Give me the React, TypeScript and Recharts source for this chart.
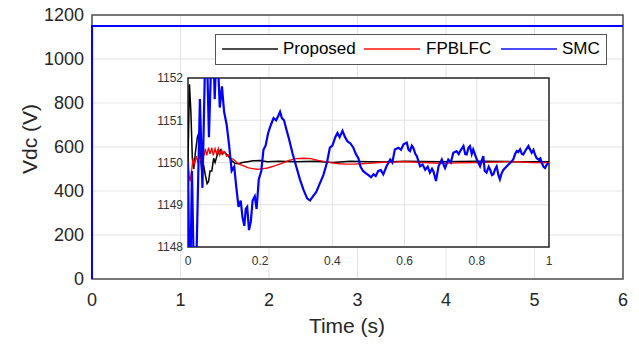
import React from "react";
import { LineChart, Line, XAxis, YAxis, CartesianGrid, ReferenceArea } from "recharts";

const FONT = '"Liberation Sans", Arial, Helvetica, sans-serif';
const TEXT = "#262626";

// main axes
const mainTicksX = [0, 1, 2, 3, 4, 5, 6];
const mainTicksY = [0, 200, 400, 600, 800, 1000, 1200];
const mainTime = [0, 0.001, 6];
const mainProposed = [0, 1150, 1150];
const mainFpblfc = [0, 1150, 1150];
const mainSmc = [0, 1150, 1150];

// zoomed inset (first second)
const insetTicksX = [0, 0.2, 0.4, 0.6, 0.8, 1];
const insetTicksY = [1148, 1149, 1150, 1151, 1152];

const seriesNames = ["Proposed", "FPBLFC", "SMC"];
const seriesColors = ["#000000", "#ff0000", "#0000ff"];

const proposedPts = [
  [0, 1150], [0.004, 1151.85], [0.008, 1151.2], [0.012, 1150.1], [0.016, 1149.85],
  [0.02, 1150.2], [0.026, 1150.6], [0.03, 1150.7], [0.034, 1150.2], [0.038, 1149.8],
  [0.043, 1149.95], [0.048, 1149.7], [0.053, 1149.5], [0.057, 1149.55], [0.061, 1149.8],
  [0.066, 1149.8], [0.071, 1150.1], [0.075, 1150.0], [0.08, 1150.15], [0.085, 1150.25],
  [0.09, 1150.3], [0.095, 1150.2], [0.1, 1150.25], [0.106, 1150.2], [0.112, 1150.15],
  [0.12, 1150.05], [0.13, 1149.98], [0.14, 1149.97], [0.15, 1150.0], [0.165, 1150.02],
  [0.18, 1150.04], [0.2, 1150.05], [0.22, 1150.02], [0.25, 1150.03], [0.3, 1150.02],
  [0.35, 1150.03], [0.4, 1150.0], [0.45, 1150.03], [0.5, 1150.02], [0.55, 1150.01],
  [0.6, 1150.03], [0.7, 1150.02], [0.8, 1150.03], [0.9, 1150.02], [1, 1150.02],
];

const fpblfcPts = [
  [0, 1150], [0.003, 1149.7], [0.006, 1149.55], [0.01, 1149.8], [0.014, 1150.1],
  [0.018, 1149.95], [0.023, 1150.15], [0.027, 1150.0], [0.031, 1150.15], [0.036, 1150.05],
  [0.04, 1150.3], [0.044, 1150.15], [0.048, 1150.32], [0.052, 1150.17], [0.057, 1150.35],
  [0.061, 1150.2], [0.066, 1150.35], [0.07, 1150.17], [0.075, 1150.33], [0.079, 1150.2],
  [0.084, 1150.33], [0.088, 1150.17], [0.093, 1150.3], [0.097, 1150.2], [0.102, 1150.25],
  [0.107, 1150.15], [0.112, 1150.18], [0.118, 1150.1], [0.125, 1150.08], [0.135, 1150.0],
  [0.145, 1149.95], [0.155, 1149.92], [0.165, 1149.88], [0.175, 1149.86], [0.19, 1149.84],
  [0.205, 1149.85], [0.22, 1149.87], [0.24, 1149.92], [0.26, 1149.98], [0.28, 1150.05],
  [0.3, 1150.09], [0.32, 1150.1], [0.34, 1150.09], [0.36, 1150.05], [0.38, 1150.02],
  [0.4, 1149.99], [0.42, 1149.97], [0.44, 1149.96], [0.46, 1149.96], [0.48, 1149.97],
  [0.5, 1149.98], [0.53, 1150.0], [0.56, 1150.01], [0.6, 1150.02], [0.65, 1150.0],
  [0.7, 1149.98], [0.75, 1149.99], [0.8, 1150.0], [0.85, 1150.01], [0.9, 1150.02],
  [0.95, 1150.0], [1, 1149.99],
];

const smcPts = [
  [0, 1150], [0.005, 1146.5], [0.011, 1149.8], [0.019, 1146.0], [0.033, 1151.5],
  [0.04, 1149.4], [0.05, 1153.5], [0.058, 1150.6], [0.068, 1153.5], [0.074, 1151.5],
  [0.08, 1153.0], [0.088, 1151.3], [0.094, 1151.8], [0.1, 1151.2], [0.107, 1150.9],
  [0.114, 1150.4], [0.121, 1149.8], [0.128, 1149.9], [0.134, 1149.4], [0.14, 1148.95],
  [0.146, 1149.1], [0.151, 1148.7], [0.156, 1148.5], [0.16, 1148.9], [0.164, 1148.95],
  [0.169, 1148.4], [0.174, 1148.6], [0.179, 1149.1], [0.185, 1149.2], [0.19, 1148.9],
  [0.196, 1149.6], [0.203, 1149.8], [0.209, 1150.3], [0.215, 1150.4], [0.222, 1150.7],
  [0.23, 1150.9], [0.237, 1151.05], [0.244, 1151.0], [0.25, 1151.1], [0.255, 1151.2],
  [0.26, 1151.05], [0.266, 1151.0], [0.272, 1150.8], [0.28, 1150.55], [0.29, 1150.2],
  [0.3, 1149.9], [0.31, 1149.6], [0.32, 1149.35], [0.33, 1149.15], [0.338, 1149.1],
  [0.346, 1149.2], [0.355, 1149.3], [0.365, 1149.5], [0.375, 1149.7], [0.385, 1150.0],
  [0.393, 1150.35], [0.4, 1150.4], [0.408, 1150.6], [0.414, 1150.7], [0.42, 1150.6],
  [0.428, 1150.75], [0.435, 1150.6], [0.442, 1150.5], [0.45, 1150.45], [0.458, 1150.35],
  [0.465, 1150.2], [0.472, 1150.1], [0.478, 1149.9], [0.485, 1149.8], [0.492, 1149.75],
  [0.5, 1149.7], [0.507, 1149.65], [0.514, 1149.72], [0.52, 1149.68], [0.527, 1149.8],
  [0.534, 1149.82], [0.541, 1149.72], [0.55, 1149.91], [0.56, 1150.07], [0.566, 1150.0],
  [0.573, 1150.31], [0.583, 1150.35], [0.59, 1150.3], [0.597, 1150.43], [0.606, 1150.47],
  [0.611, 1150.3], [0.615, 1150.27], [0.62, 1150.4], [0.624, 1150.35], [0.63, 1150.2],
  [0.634, 1150.15], [0.643, 1149.91], [0.65, 1149.95], [0.657, 1149.83], [0.664, 1149.9],
  [0.67, 1149.76], [0.676, 1149.85], [0.68, 1149.79], [0.687, 1149.56], [0.694, 1149.91],
  [0.703, 1150.07], [0.708, 1149.95], [0.712, 1149.87], [0.721, 1150.07], [0.728, 1150.0],
  [0.735, 1150.23], [0.744, 1150.27], [0.75, 1150.2], [0.754, 1150.27], [0.763, 1150.39],
  [0.768, 1150.2], [0.772, 1150.19], [0.777, 1150.35], [0.781, 1150.39], [0.786, 1150.2],
  [0.79, 1150.31], [0.8, 1150.07], [0.809, 1149.91], [0.814, 1150.05], [0.818, 1150.15],
  [0.822, 1149.8], [0.827, 1149.76], [0.833, 1149.9], [0.837, 1149.83], [0.842, 1149.7],
  [0.846, 1149.72], [0.851, 1149.85], [0.855, 1149.91], [0.86, 1149.7], [0.864, 1149.6],
  [0.869, 1149.75], [0.874, 1149.83], [0.883, 1149.91], [0.892, 1149.99], [0.901, 1150.07],
  [0.906, 1150.2], [0.911, 1150.27], [0.915, 1150.25], [0.92, 1150.31], [0.925, 1150.2],
  [0.929, 1150.19], [0.936, 1150.3], [0.943, 1150.39], [0.948, 1150.3], [0.952, 1150.23],
  [0.957, 1150.3], [0.961, 1150.19], [0.966, 1150.1], [0.971, 1150.07], [0.976, 1150.1],
  [0.98, 1149.99], [0.985, 1149.9], [0.989, 1149.87], [0.994, 1149.95], [0.998, 1149.99],
];

const toRows = (pts: number[][]) => pts.map(([t, v]) => ({ t, v }));

const mainRows = mainTime.map((t, i) => ({
  t,
  p: mainProposed[i],
  f: mainFpblfc[i],
  s: mainSmc[i],
}));

const insetSeries = [proposedPts, fpblfcPts, smcPts].map(toRows);
const insetWidths = [1.5, 1.3, 2.2];
const mainWidths = [1, 1.2, 2];

const mainTick = { fontSize: 18, fill: TEXT, fontFamily: FONT };
const insetTick = { fontSize: 12, fill: "#333", fontFamily: FONT };

function Legend() {
  const items = [
    { line: 222, text: 283 },
    { line: 364, text: 426 },
    { line: 501, text: 562 },
  ];
  return (
    <div
      style={{
        position: "absolute",
        left: 215,
        top: 34,
        width: 390,
        height: 29,
        background: "#fff",
        border: "1.5px solid #555",
        fontFamily: FONT,
        fontSize: 17,
        color: "#000",
      }}
    >
      {items.map((it, i) => (
        <React.Fragment key={seriesNames[i]}>
          <div
            style={{
              position: "absolute",
              left: it.line - 216,
              top: 13,
              width: 56,
              height: 1.5,
              background: seriesColors[i],
              opacity: 0.7,
            }}
          />
          <div style={{ position: "absolute", left: it.text - 216, top: 4, lineHeight: "20px" }}>
            {seriesNames[i]}
          </div>
        </React.Fragment>
      ))}
    </div>
  );
}

export default function App() {
  return (
    <div style={{ position: "absolute", left: 0, top: 0, width: 639, height: 346, background: "#fff", overflow: "hidden" }}>
      <LineChart width={639} height={346} data={mainRows} margin={{ top: 15, right: 16, bottom: 37, left: 0 }}>
        <CartesianGrid stroke="#e3e3e3" strokeWidth={1} />
        <XAxis
          dataKey="t"
          type="number"
          domain={[0, 6]}
          ticks={mainTicksX}
          tickLine={false}
          axisLine={false}
          tick={mainTick}
          tickSize={6}
          tickMargin={8}
          height={30}
        />
        <YAxis
          type="number"
          domain={[0, 1200]}
          ticks={mainTicksY}
          tickLine={false}
          axisLine={false}
          tick={mainTick}
          width={92}
        />
        <ReferenceArea x1={0} x2={6} y1={0} y2={1200} fill="none" stroke="#505050" strokeWidth={1.5} />
        <Line dataKey="p" stroke={seriesColors[0]} strokeWidth={mainWidths[0]} dot={false} isAnimationActive={false} />
        <Line dataKey="f" stroke={seriesColors[1]} strokeWidth={mainWidths[1]} dot={false} isAnimationActive={false} />
        <Line dataKey="s" stroke={seriesColors[2]} strokeWidth={mainWidths[2]} dot={false} isAnimationActive={false} />
      </LineChart>

      <div
        style={{
          position: "absolute",
          left: 4,
          top: 148,
          width: 52,
          textAlign: "center",
          transform: "translate(0, -50%) rotate(-90deg)",
          fontFamily: FONT,
          fontSize: 21,
          color: TEXT,
          whiteSpace: "nowrap",
        }}
      >
        Vdc (V)
      </div>
      <div
        style={{
          position: "absolute",
          left: 257,
          width: 180,
          top: 314,
          textAlign: "center",
          fontFamily: FONT,
          fontSize: 21,
          color: TEXT,
        }}
      >
        Time (s)
      </div>

      <Legend />

      <div style={{ position: "absolute", left: 140, top: 70 }}>
        <LineChart width={420} height={200} margin={{ top: 8, right: 11, bottom: 3, left: 4 }}>
          <CartesianGrid stroke="#e3e3e3" fill="#ffffff" fillOpacity={1} />
          <XAxis
            dataKey="t"
            type="number"
            domain={[0, 1]}
            ticks={insetTicksX}
            allowDataOverflow
            tickLine={false}
            axisLine={false}
            tick={insetTick}
            tickSize={6}
            tickMargin={3}
            height={20}
          />
          <YAxis
            type="number"
            domain={[1148, 1152]}
            ticks={insetTicksY}
            allowDataOverflow
            tickLine={false}
            axisLine={false}
            tick={insetTick}
            tickSize={2}
            tickMargin={3}
            width={44}
          />
          {insetSeries.map((rows, i) => (
            <Line
              key={seriesNames[i]}
              data={rows}
              dataKey="v"
              stroke={seriesColors[i]}
              strokeWidth={insetWidths[i]}
              dot={false}
              isAnimationActive={false}
            />
          ))}
          <ReferenceArea x1={0} x2={1} y1={1148} y2={1152} fill="none" stroke="#262626" strokeWidth={1.5} />
        </LineChart>
      </div>
    </div>
  );
}
